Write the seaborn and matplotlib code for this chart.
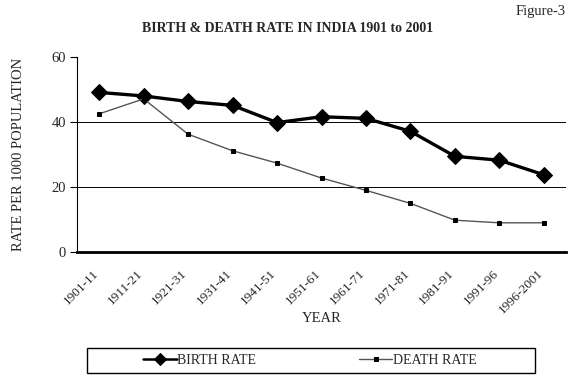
import matplotlib
matplotlib.use("Agg")
import matplotlib.pyplot as plt
import matplotlib.transforms as mtransforms
from matplotlib.patches import Rectangle
import seaborn as sns
import pandas as pd
import numpy as np

periods = ["1901-11", "1911-21", "1921-31", "1931-41", "1941-51", "1951-61",
           "1961-71", "1971-81", "1981-91", "1991-96", "1996-2001"]
birth_rate = [49.2, 48.1, 46.4, 45.2, 39.9, 41.7, 41.2, 37.2, 29.5, 28.3, 23.8]
death_rate = [42.6, 47.2, 36.3, 31.2, 27.4, 22.8, 19.0, 15.0, 9.8, 9.0, 9.0]

df = pd.DataFrame({"period": periods, "birth": birth_rate, "death": death_rate})
df["pos"] = np.arange(len(periods))

sns.set_style("white")
plt.rcParams["font.family"] = ["Liberation Serif", "DejaVu Serif"]

W, H = 572, 375
fig = plt.figure(figsize=(W / 100, H / 100), dpi=100)
ax = fig.add_axes([0.1346, 0.328, 0.855, 0.519])

sns.lineplot(data=df, x="pos", y="birth", ax=ax, color="black", linewidth=2.4,
             marker="D", markersize=8.5, markeredgecolor="black", label="BIRTH RATE")
sns.lineplot(data=df, x="pos", y="death", ax=ax, color="#555555", linewidth=1.0,
             marker="s", markersize=3.5, markerfacecolor="black",
             markeredgecolor="black", label="DEATH RATE")

ax.set_xlim(-0.5, len(periods) - 0.5)
ax.set_ylim(0, 60)
ax.set_yticks([0, 20, 40, 60])
ax.set_yticklabels(["0", "20", "40", "60"], fontsize=10.5)
for yv in [20, 40]:
    ax.axhline(yv, color="black", linewidth=0.7, zorder=0)

# category labels centred on points, tick marks between categories
ax.set_xticks(np.arange(len(periods)))
ax.set_xticklabels(periods, rotation=45, ha="right", rotation_mode="anchor", fontsize=9.5)
ax.tick_params(axis="x", which="major", length=0, pad=11)
shift = mtransforms.ScaledTranslation(-7 / 100, 0, fig.dpi_scale_trans)
for lbl in ax.get_xticklabels():
    lbl.set_transform(lbl.get_transform() + shift)
ax.set_xticks(np.arange(-0.5, len(periods) + 0.5, 1.0), minor=True)
ax.tick_params(axis="x", which="minor", direction="out", length=5, width=1, color="black")
ax.tick_params(axis="y", direction="out", length=5, width=0.8, color="black", left=True, pad=3)

for s in ["top", "right"]:
    ax.spines[s].set_visible(False)
ax.spines["left"].set_color("black")
ax.spines["left"].set_linewidth(0.8)
ax.spines["bottom"].set_color("black")
ax.spines["bottom"].set_linewidth(2.0)

ax.set_xlabel("YEAR", fontsize=10.5, labelpad=-3)
ax.set_ylabel("RATE PER 1000 POPULATION", fontsize=10.5, labelpad=19)

ax.get_legend().remove()
handles, labels = ax.get_legend_handles_labels()
leg = fig.legend(handles, labels, loc="center", bbox_to_anchor=(310 / W, 1 - 360.5 / H),
                 ncol=2, frameon=False, fontsize=10, columnspacing=7.4,
                 handlelength=2.4, handletextpad=0.05, markerscale=0.7)
for h in leg.legend_handles:
    h.set_linewidth(min(h.get_linewidth(), 1.8))
# legend box
fig.patches.append(Rectangle((87 / W, 1 - 373 / H), 448 / W, 25 / H,
                             transform=fig.transFigure, fill=False,
                             edgecolor="black", linewidth=1.0))

fig.text(288 / W, 1 - 29 / H, "BIRTH & DEATH RATE IN INDIA 1901 to 2001", ha="center",
         va="center", fontsize=10, fontweight="bold")
fig.text(566 / W, 1 - 12 / H, "Figure-3", ha="right", va="center", fontsize=10.5)

fig.savefig("out.png", dpi=100)
